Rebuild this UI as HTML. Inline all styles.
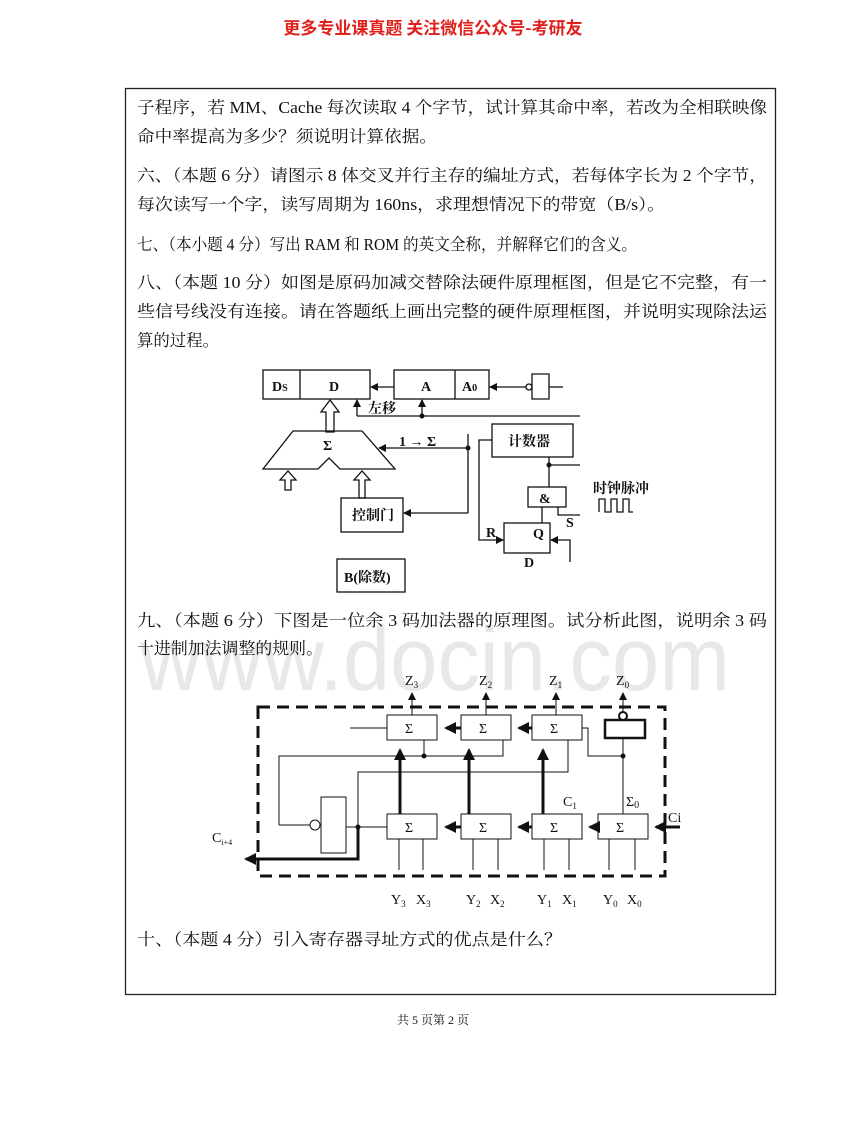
<!DOCTYPE html>
<html><head><meta charset="utf-8"><style>
body{margin:0;background:#fff}
svg{display:block}
.t{font-family:"Liberation Serif","Noto Serif CJK SC",serif;font-size:16.5px;fill:#111}
.b{font-family:"Liberation Serif","Noto Serif CJK SC",serif;font-weight:bold;fill:#111}
.s{font-family:"Liberation Serif","Noto Serif CJK SC",serif;fill:#111;font-size:14px}
</style></head><body>
<svg width="867" height="1122" viewBox="0 0 867 1122" xmlns="http://www.w3.org/2000/svg">
<defs>
<marker id="ar" markerWidth="8" markerHeight="8" refX="7" refY="4" orient="auto" markerUnits="userSpaceOnUse"><path d="M0,0 L8,4 L0,8z" fill="#111"/></marker>
<marker id="arB" markerWidth="12" markerHeight="12" refX="10" refY="6" orient="auto" markerUnits="userSpaceOnUse"><path d="M0,0 L12,6 L0,12z" fill="#111"/></marker>
</defs>
<text x="433" y="34" text-anchor="middle" style="font-family:'Noto Sans CJK SC',sans-serif;font-weight:bold;font-size:17px;fill:#e0201c">更多专业课真题 关注微信公众号-考研友</text>
<rect x="125.5" y="88.5" width="650" height="906" fill="none" stroke="#222" stroke-width="1.3"/>
<text x="435" y="690" text-anchor="middle" textLength="590" lengthAdjust="spacingAndGlyphs" style="font-family:'Liberation Sans',sans-serif;font-size:90px;fill:#e8e8e8">www.docin.com</text>
<g class="t">
<text x="137" y="113" textLength="630" lengthAdjust="spacingAndGlyphs">子程序，若 MM、Cache 每次读取 4 个字节，试计算其命中率，若改为全相联映像</text>
<text x="137" y="142" textLength="300" lengthAdjust="spacingAndGlyphs">命中率提高为多少？须说明计算依据。</text>
<text x="137" y="181" textLength="630" lengthAdjust="spacingAndGlyphs">六、（本题 6 分）请图示 8 体交叉并行主存的编址方式，若每体字长为 2 个字节，</text>
<text x="137" y="210" textLength="528" lengthAdjust="spacingAndGlyphs">每次读写一个字，读写周期为 160ns，求理想情况下的带宽（B/s）。</text>
<text x="137" y="250" textLength="500" lengthAdjust="spacingAndGlyphs">七、（本小题 4 分）写出 RAM 和 ROM 的英文全称，并解释它们的含义。</text>
<text x="137" y="288" textLength="630" lengthAdjust="spacingAndGlyphs">八、（本题 10 分）如图是原码加减交替除法硬件原理框图，但是它不完整，有一</text>
<text x="137" y="317" textLength="630" lengthAdjust="spacingAndGlyphs">些信号线没有连接。请在答题纸上画出完整的硬件原理框图，并说明实现除法运</text>
<text x="137" y="346" textLength="82" lengthAdjust="spacingAndGlyphs">算的过程。</text>
<text x="137" y="626" textLength="630" lengthAdjust="spacingAndGlyphs">九、（本题 6 分）下图是一位余 3 码加法器的原理图。试分析此图，说明余 3 码</text>
<text x="137" y="654" textLength="186" lengthAdjust="spacingAndGlyphs">十进制加法调整的规则。</text>
<text x="137" y="945" textLength="425" lengthAdjust="spacingAndGlyphs">十、（本题 4 分）引入寄存器寻址方式的优点是什么？</text>
</g>
<text x="433" y="1024" text-anchor="middle" class="s" style="font-size:12px">共 5 页第 2 页</text>

<!-- Diagram 1 -->
<g stroke="#111" stroke-width="1.3" fill="none">
<rect x="263" y="370" width="107" height="29"/><line x1="300" y1="370" x2="300" y2="399"/>
<rect x="394" y="370" width="95" height="29"/><line x1="455" y1="370" x2="455" y2="399"/>
<line x1="394" y1="387" x2="371" y2="387" marker-end="url(#ar)"/>
<path d="M532,374 h17 v25 h-17z"/><circle cx="529" cy="387" r="3"/>
<line x1="549" y1="387" x2="563" y2="387"/>
<line x1="526" y1="387" x2="490" y2="387" marker-end="url(#ar)"/>
<line x1="357" y1="416" x2="580" y2="416"/>
<line x1="357" y1="416" x2="357" y2="400" marker-end="url(#ar)"/>
<line x1="422" y1="416" x2="422" y2="400" marker-end="url(#ar)"/>
<path d="M326,432 v-20 h-5 l9,-12 l9,12 h-5 v20z"/>
<path d="M293,431 L362,431 L395,469 L340,469 L329,458 L318,469 L263,469 Z"/>
<path d="M285,490 v-10 h-5 l8,-9 l8,9 h-5 v10z"/>
<path d="M359,498 v-18 h-5 l8,-9 l8,9 h-5 v18z"/>
<line x1="468" y1="448" x2="379" y2="448" marker-end="url(#ar)"/>
<line x1="468" y1="434" x2="468" y2="513"/>
<line x1="468" y1="513" x2="404" y2="513" marker-end="url(#ar)"/>
<rect x="341" y="498" width="62" height="34"/>
<rect x="492" y="424" width="81" height="33"/>
<path d="M492,440 h-13 v100 h24" marker-end="url(#ar)"/>
<line x1="549" y1="457" x2="549" y2="487"/>
<line x1="549" y1="465" x2="580" y2="465"/>
<rect x="528" y="487" width="38" height="20"/>
<line x1="542" y1="507" x2="542" y2="523"/>
<path d="M558,507 v8 h22"/>
<rect x="504" y="523" width="46" height="30"/>
<path d="M570,562 v-22 h-19" marker-end="url(#ar)"/>
<rect x="337" y="559" width="68" height="33"/>
<path d="M599,512 v-13 h6 v13 h6 v-13 h6 v13 h6 v-13 h6 v13 h4"/>
</g>
<circle cx="422" cy="416" r="2.5" fill="#111"/><circle cx="468" cy="448" r="2.5" fill="#111"/><circle cx="549" cy="465" r="2.5" fill="#111"/>
<g class="b" font-size="14">
<text x="272" y="391">D<tspan font-size="10">S</tspan></text>
<text x="329" y="391">D</text>
<text x="421" y="391">A</text>
<text x="462" y="391">A<tspan font-size="10">0</tspan></text>
<text x="368" y="413">左移</text>
<text x="323" y="450">Σ</text>
<text x="399" y="446">1 → Σ</text>
<text x="352" y="520">控制门</text>
<text x="508" y="446">计数器</text>
<text x="539" y="503">&amp;</text>
<text x="533" y="538">Q</text>
<text x="486" y="537">R</text>
<text x="524" y="567">D</text>
<text x="566" y="527">S</text>
<text x="593" y="493">时钟脉冲</text>
<text x="344" y="582">B(除数)</text>
</g>

<!-- Diagram 2 -->
<rect x="258" y="707" width="407" height="169" fill="none" stroke="#111" stroke-width="3" stroke-dasharray="12,7"/>
<g stroke="#111" stroke-width="1" fill="#fff">
<rect x="387" y="715" width="50" height="25"/><rect x="461" y="715" width="50" height="25"/><rect x="532" y="715" width="50" height="25"/>
<rect x="605" y="720" width="40" height="18" stroke-width="2.5"/>
<rect x="387" y="814" width="50" height="25"/><rect x="461" y="814" width="50" height="25"/><rect x="532" y="814" width="50" height="25"/><rect x="598" y="814" width="50" height="25"/>
<rect x="321" y="797" width="25" height="56"/>
<circle cx="315" cy="825" r="5"/>
<circle cx="623" cy="716" r="4" stroke-width="2"/>
</g>
<g stroke="#111" stroke-width="1" fill="none">
<line x1="412" y1="715" x2="412" y2="693" marker-end="url(#ar)"/>
<line x1="486" y1="715" x2="486" y2="693" marker-end="url(#ar)"/>
<line x1="556" y1="715" x2="556" y2="693" marker-end="url(#ar)"/>
<line x1="623" y1="712" x2="623" y2="693" marker-end="url(#ar)"/>
<line x1="350" y1="728" x2="387" y2="728"/>
<path d="M279,825 V756 H503 V740"/>
<line x1="424" y1="756" x2="424" y2="740"/>
<path d="M358,825 V772 H568 V740"/>
<line x1="346" y1="827" x2="387" y2="827"/>
<path d="M582,728 H588 V756 H623"/>
<line x1="623" y1="738" x2="623" y2="814"/>
<line x1="399" y1="839" x2="399" y2="870"/><line x1="423" y1="839" x2="423" y2="870"/>
<line x1="473" y1="839" x2="473" y2="870"/><line x1="498" y1="839" x2="498" y2="870"/>
<line x1="544" y1="839" x2="544" y2="870"/><line x1="569" y1="839" x2="569" y2="870"/>
<line x1="609" y1="839" x2="609" y2="870"/><line x1="635" y1="839" x2="635" y2="870"/>
</g>
<line x1="279" y1="825" x2="310" y2="825" stroke="#111"/>
<g stroke="#111" stroke-width="3" fill="none">
<line x1="461" y1="728" x2="446" y2="728" marker-end="url(#arB)"/>
<line x1="532" y1="728" x2="519" y2="728" marker-end="url(#arB)"/>
<line x1="461" y1="827" x2="446" y2="827" marker-end="url(#arB)"/>
<line x1="532" y1="827" x2="519" y2="827" marker-end="url(#arB)"/>
<line x1="598" y1="827" x2="590" y2="827" marker-end="url(#arB)"/>
<line x1="680" y1="827" x2="656" y2="827" marker-end="url(#arB)"/>
<line x1="400" y1="814" x2="400" y2="750" marker-end="url(#arB)"/>
<line x1="469" y1="814" x2="469" y2="750" marker-end="url(#arB)"/>
<line x1="543" y1="814" x2="543" y2="750" marker-end="url(#arB)"/>
<path d="M358,827 V859 H246" marker-end="url(#arB)"/>
</g>
<circle cx="424" cy="756" r="2.5" fill="#111"/><circle cx="623" cy="756" r="2.5" fill="#111"/><circle cx="358" cy="827" r="2.5" fill="#111"/>
<g class="s">
<text x="405" y="685">Z<tspan font-size="9" dy="3">3</tspan></text>
<text x="479" y="685">Z<tspan font-size="9" dy="3">2</tspan></text>
<text x="549" y="685">Z<tspan font-size="9" dy="3">1</tspan></text>
<text x="616" y="685">Z<tspan font-size="9" dy="3">0</tspan></text>
<text x="405" y="832">Σ</text><text x="479" y="832">Σ</text><text x="550" y="832">Σ</text><text x="616" y="832">Σ</text>
<text x="405" y="733">Σ</text><text x="479" y="733">Σ</text><text x="550" y="733">Σ</text>
<text x="563" y="806">C<tspan font-size="9" dy="3">1</tspan></text>
<text x="626" y="806">Σ<tspan font-size="10" dy="2">0</tspan></text>
<text x="668" y="822">Ci</text>
<text x="212" y="842">C<tspan font-size="8" dy="3">i+4</tspan></text>
<text x="391" y="904">Y<tspan font-size="9" dy="3">3</tspan></text><text x="416" y="904" dy="0">X<tspan font-size="9" dy="3">3</tspan></text>
<text x="466" y="904">Y<tspan font-size="9" dy="3">2</tspan></text><text x="490" y="904">X<tspan font-size="9" dy="3">2</tspan></text>
<text x="537" y="904">Y<tspan font-size="9" dy="3">1</tspan></text><text x="562" y="904">X<tspan font-size="9" dy="3">1</tspan></text>
<text x="603" y="904">Y<tspan font-size="9" dy="3">0</tspan></text><text x="627" y="904">X<tspan font-size="9" dy="3">0</tspan></text>
</g>
</svg>
</body></html>
